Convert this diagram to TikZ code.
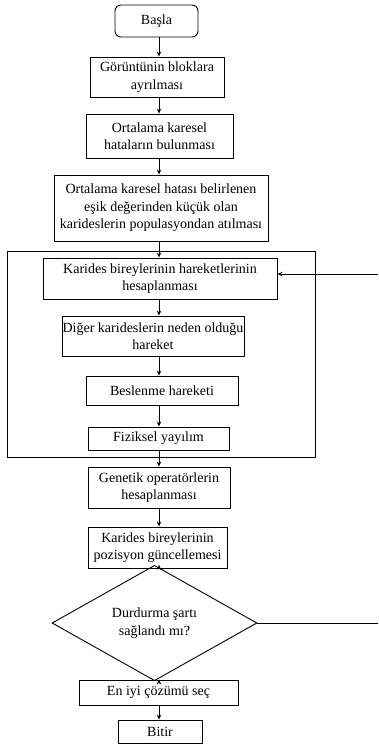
\documentclass[tikz,border=0pt]{standalone}
\usepackage{fontspec}
\setmainfont{Liberation Serif}
\usetikzlibrary{shapes.geometric,arrows.meta}

\begin{document}
\begin{tikzpicture}[x=1pt,y=-1pt,
    kutu/.style={draw,rectangle,align=center,inner sep=0pt,line width=0.9pt,
      font=\fontsize{14}{17.5}\selectfont},
    karar/.style={draw,diamond,align=center,inner sep=0pt,line width=0.9pt,
      font=\fontsize{14}{17.5}\selectfont},
    ok/.style={line width=0.9pt,-{Stealth[length=5pt,width=4.5pt]}}]
  \useasboundingbox (0,0) rectangle (378,745);

  \coordinate (eksen) at (159,0);
  \coordinate (geri) at (378,274);
  \coordinate (sag) at (378,623);

  \node[kutu,rounded corners=6pt,minimum width=83pt,minimum height=32pt] (basla) at (156.5,21) {Başla};
  \node[kutu,minimum width=134pt,minimum height=40pt] (blok) at (157,77)
    {Görüntünin bloklara\\ayrılması};
  \node[kutu,minimum width=147pt,minimum height=44pt] (hata) at (159.5,136)
    {Ortalama karesel\\hataların bulunması};
  \node[kutu,minimum width=214pt,minimum height=66pt] (esik) at (161,208)
    {Ortalama karesel hatası belirlenen\\eşik değerinden küçük olan\\karideslerin populasyondan atılması};

  \node[draw,line width=0.9pt,minimum width=308pt,minimum height=206pt] (dongu) at (161,354) {};
  \node[kutu,minimum width=234pt,minimum height=41pt] (hareket) at (160,278.5)
    {Karides bireylerinin hareketlerinin\\hesaplanması};
  \node[kutu,minimum width=182pt,minimum height=40pt] (diger) at (153,336)
    {Diğer karideslerin neden olduğu\\hareket};
  \node[kutu,minimum width=152pt,minimum height=29pt] (besle) at (162,390.5) {Beslenme hareketi};
  \node[kutu,minimum width=141pt,minimum height=23pt] (fizik) at (158.5,438.5) {Fiziksel yayılım};

  \node[kutu,minimum width=142pt,minimum height=41pt] (genetik) at (159,487.5)
    {Genetik operatörlerin\\hesaplanması};
  \node[kutu,minimum width=139pt,minimum height=41pt] (pozisyon) at (157.5,547.5)
    {Karides bireylerinin\\pozisyon güncellemesi};
  \node[karar,minimum width=205pt,minimum height=80pt] (durdur) at (154.5,623)
    {Durdurma şartı\\sağlandı mı?};
  \node[kutu,minimum width=159pt,minimum height=25pt] (eniyi) at (158.5,692.5) {En iyi çözümü seç};
  \node[kutu,minimum width=84pt,minimum height=23pt] (bitir) at (160,731.5) {Bitir};

  \draw[ok] (basla.south -| eksen) -- (blok.north -| eksen);
  \draw[ok] (blok.south -| eksen) -- (hata.north -| eksen);
  \draw[ok] (hata.south -| eksen) -- (esik.north -| eksen);
  \draw[ok] (esik.south -| eksen) -- (hareket.north -| eksen);
  \draw[ok] (hareket.south -| eksen) -- (diger.north -| eksen);
  \draw[ok] (diger.south -| eksen) -- (besle.north -| eksen);
  \draw[ok] (besle.south -| eksen) -- (fizik.north -| eksen);
  \draw[ok] (fizik.south -| eksen) -- (genetik.north -| eksen);
  \draw[ok] (genetik.south -| eksen) -- (pozisyon.north -| eksen);
  \draw[ok] (pozisyon.south -| eksen) -- (durdur.north -| eksen);
  \draw[ok] (durdur.south -| eksen) -- (eniyi.north -| eksen);
  \draw[ok] (eniyi.south -| eksen) -- (bitir.north -| eksen);
  \draw[ok] (geri) -- (geri -| hareket.east);
  \draw[line width=0.9pt] (durdur.east) -- (sag);
\end{tikzpicture}
\end{document}
